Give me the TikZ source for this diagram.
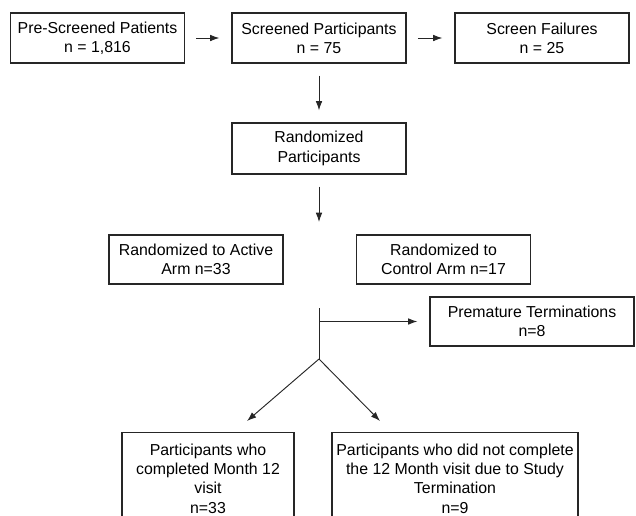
\documentclass[tikz,border=0pt]{standalone}
\usepackage{fontspec}
\setmainfont{Liberation Sans}
\usetikzlibrary{arrows.meta}

\begin{document}
\begin{tikzpicture}[x=0.75pt, y=-0.75pt,
    box/.style={draw=black!85, line width=0.9pt, rectangle, align=center,
      inner sep=2pt, minimum width=130.5pt, minimum height=37.5pt,
      font=\fontsize{11.9}{14.5}\selectfont},
    stemline/.style={draw=black!85, line width=0.7pt},
    arr/.style={stemline, -{Latex[length=7pt, width=5pt]}}]
  \useasboundingbox (0,0) rectangle (636,515);
  \clip (0,0) rectangle (636,515);
  % screening row
  \node [box] (pre)  at (97.5,38) {Pre-Screened Patients\\n = 1,816};
  \node [box] (scr)  at (319,38)  {Screened Participants\\n = 75};
  \node [box] (fail) at (542,38)  {Screen Failures\\n = 25};
  \foreach \a/\b in {pre/scr, scr/fail} {
    \draw [arr, shorten <=8.5pt, shorten >=9pt] (\a) -- (\b);
  }
  % randomization
  \node [box, minimum height=38.25pt] (rand) at (319,148.5) {Randomized\\Participants};
  \draw [arr, shorten <=9pt, shorten >=9pt] (scr) -- (rand);
  \coordinate (fork) at (319,222);
  \draw [arr, shorten <=9pt] (rand) -- (fork);
  \node [box, minimum height=36.75pt] (active)  at (196,259.5)   {Randomized to Active\\Arm n=33};
  \node [box, minimum height=36.75pt] (control) at (443.5,259.5) {Randomized to\\Control Arm n=17};
  % terminations
  \node [box, minimum width=153pt, minimum height=36.75pt] (prem) at (532,321.5) {Premature Terminations\\n=8};
  \coordinate (stem) at (319,308);
  \coordinate (split) at (319,359);
  \draw [stemline] (stem) -- (split);
  \draw [arr, shorten >=9pt] (stem |- prem.west) -- (prem.west);
  % outcomes
  \node [box, anchor=north, minimum width=129pt, minimum height=69pt] (done) at (208,432)
    {Participants who\\completed Month 12\\visit\\n=33};
  \node [box, anchor=north, minimum width=184.5pt, minimum height=69pt] (term) at (455,432)
    {Participants who did not complete\\the 12 Month visit due to Study\\Termination\\n=9};
  \coordinate (doneTip) at (247,421);
  \coordinate (termTip) at (380,421);
  \draw [arr] (split) -- (doneTip);
  \draw [arr] (split) -- (termTip);
\end{tikzpicture}
\end{document}
